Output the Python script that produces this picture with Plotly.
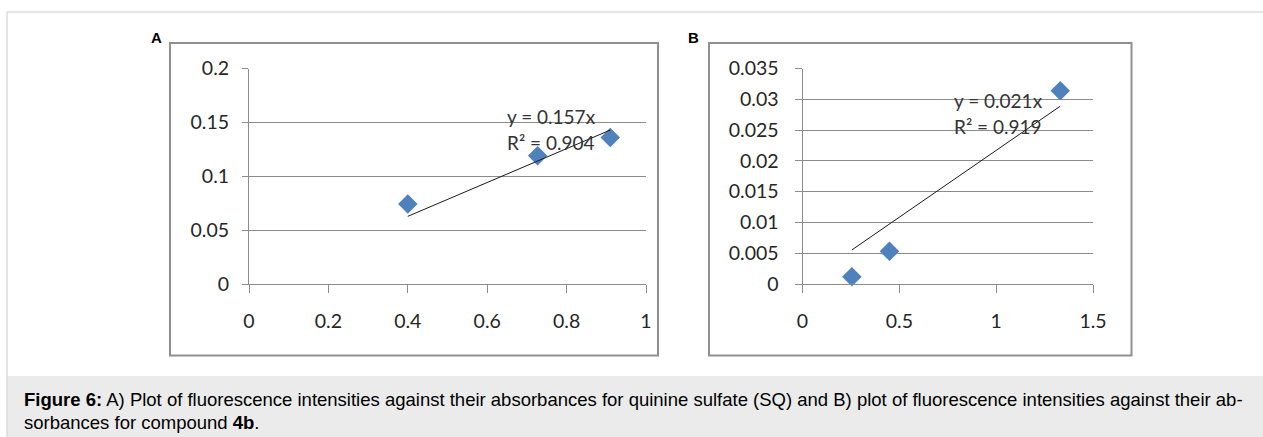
import plotly.graph_objects as go

# Panel A: quinine sulfate (SQ)
absorb_A = [0.40, 0.727, 0.910]
fluor_A = [0.0743, 0.119, 0.136]
slope_A = 0.157
eq_A = ["y = 0.157x", "R² = 0.904"]
xticks_A = [0, 0.2, 0.4, 0.6, 0.8, 1]
xtick_text_A = ["0", "0.2", "0.4", "0.6", "0.8", "1"]
yticks_A = [0, 0.05, 0.1, 0.15, 0.2]
ytick_text_A = ["0", "0.05", "0.1", "0.15", "0.2"]

# Panel B: compound 4b
absorb_B = [0.255, 0.449, 1.331]
fluor_B = [0.00118, 0.0053, 0.0314]
slope_B = 0.0217
eq_B = ["y = 0.021x", "R² = 0.919"]
xticks_B = [0, 0.5, 1, 1.5]
xtick_text_B = ["0", "0.5", "1", "1.5"]
yticks_B = [0, 0.005, 0.01, 0.015, 0.02, 0.025, 0.03, 0.035]
ytick_text_B = ["0", "0.005", "0.01", "0.015", "0.02", "0.025", "0.03", "0.035"]

caption_line1 = ("<b>Figure 6:</b> A) Plot of fluorescence intensities against their absorbances for "
                 "quinine sulfate (SQ) and B) plot of fluorescence intensities against their ab-")
caption_line2 = "sorbances for compound <b>4b</b>."

W, H = 1263, 437
def fx(px): return px / W
def fy(py): return 1 - py / H

marker_color = "#4F81BD"
grid_color = "#8c8c8c"
tick_font = dict(family="Lato", size=19.5, color="#262626")

fig = go.Figure()

for xs, ys, slope, xa, ya in [(absorb_A, fluor_A, slope_A, "x", "y"),
                              (absorb_B, fluor_B, slope_B, "x2", "y2")]:
    fig.add_trace(go.Scatter(x=xs, y=ys, mode="markers", xaxis=xa, yaxis=ya,
                             marker=dict(symbol="diamond", size=15, color=marker_color,
                                         line=dict(width=0)),
                             showlegend=False, cliponaxis=False))
    tx = [min(xs), max(xs)]
    fig.add_trace(go.Scatter(x=tx, y=[slope * v for v in tx], mode="lines", xaxis=xa, yaxis=ya,
                             line=dict(color="#1a1a1a", width=1), showlegend=False))

y_dom = [fy(284), fy(68.5)]
common_x = dict(showgrid=False, zeroline=False, showline=True, linecolor=grid_color, linewidth=1,
                ticks="outside", ticklen=8, tickcolor=grid_color, tickfont=tick_font,
                ticklabelstandoff=12, fixedrange=True, automargin=False)
common_y = dict(showgrid=True, gridcolor=grid_color, gridwidth=1, zeroline=False, showline=True,
                linecolor=grid_color, linewidth=1, ticks="outside", tickcolor=grid_color,
                tickfont=tick_font, fixedrange=True, automargin=False)

fig.update_layout(
    width=W, height=H, margin=dict(l=0, r=0, t=0, b=0, pad=0, autoexpand=False),
    paper_bgcolor="white", plot_bgcolor="rgba(0,0,0,0)", showlegend=False,
    xaxis=dict(domain=[fx(249), fx(646)], range=[0, 1], tickvals=xticks_A, ticktext=xtick_text_A,
               anchor="y", **common_x),
    yaxis=dict(domain=y_dom, range=[0, 0.2], tickvals=yticks_A, ticktext=ytick_text_A,
               anchor="x", ticklen=6, ticklabelstandoff=9, **common_y),
    xaxis2=dict(domain=[fx(802.5), fx(1093)], range=[0, 1.5], tickvals=xticks_B, ticktext=xtick_text_B,
                anchor="y2", **common_x),
    yaxis2=dict(domain=y_dom, range=[0, 0.035], tickvals=yticks_B, ticktext=ytick_text_B,
                anchor="x2", ticklen=7, ticklabelstandoff=12, **common_y),
)

shapes = [
    # caption background
    dict(type="rect", xref="paper", yref="paper", x0=fx(7), x1=1, y0=0, y1=fy(376),
         fillcolor="#ebebeb", line=dict(width=0), layer="below"),
    # outer frame lines
    dict(type="line", xref="paper", yref="paper", x0=fx(7), x1=1, y0=fy(12), y1=fy(12),
         line=dict(color="#dcdcdc", width=1.5)),
    dict(type="line", xref="paper", yref="paper", x0=fx(7), x1=fx(7), y0=0, y1=fy(12),
         line=dict(color="#dcdcdc", width=1.5)),
    # panel boxes
    dict(type="rect", xref="paper", yref="paper", x0=fx(170), x1=fx(658), y0=fy(355.5), y1=fy(43),
         line=dict(color="#8f8f8f", width=2), fillcolor="rgba(0,0,0,0)", layer="below"),
    dict(type="rect", xref="paper", yref="paper", x0=fx(709), x1=fx(1131.5), y0=fy(355.5), y1=fy(43),
         line=dict(color="#8f8f8f", width=2), fillcolor="rgba(0,0,0,0)", layer="below"),
]
fig.update_layout(shapes=shapes)

ann = []
eq_font = dict(family="Lato", size=19, color="#333333")
for (lines, xa, ya, xpos, ypos) in [(eq_A, "x", "y", 0.645, [0.155, 0.131]),
                                    (eq_B, "x2", "y2", 0.77, [0.0298, 0.0255])]:
    for line, yv in zip(lines, ypos):
        ann.append(dict(text=line, x=xpos, y=yv, xref=xa, yref=ya, xanchor="left", yanchor="middle",
                        showarrow=False, font=eq_font))

ann.append(dict(text="<b>A</b>", x=fx(156), y=fy(37), xref="paper", yref="paper", showarrow=False,
                xanchor="center", yanchor="middle",
                font=dict(family="Liberation Sans", size=15, color="black")))
ann.append(dict(text="<b>B</b>", x=fx(693), y=fy(37), xref="paper", yref="paper", showarrow=False,
                xanchor="center", yanchor="middle",
                font=dict(family="Liberation Sans", size=15, color="black")))

cap_font = dict(family="Liberation Sans", size=18.5, color="black")
ann.append(dict(text=caption_line1, x=fx(22), y=fy(399), xref="paper", yref="paper", xanchor="left",
                yanchor="middle", showarrow=False, font=cap_font))
ann.append(dict(text=caption_line2, x=fx(22), y=fy(422), xref="paper", yref="paper", xanchor="left",
                yanchor="middle", showarrow=False, font=cap_font))
fig.update_layout(annotations=ann)

fig.write_html("out.html", config={"displayModeBar": False, "staticPlot": True},
               post_script="document.body.style.margin='0';document.body.style.overflow='hidden';")
